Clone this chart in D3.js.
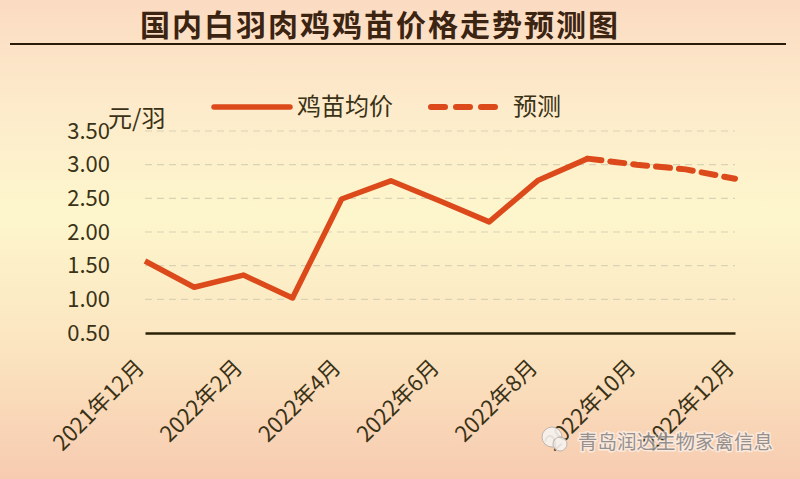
<!DOCTYPE html>
<html><head><meta charset="utf-8">
<script src="https://cdn.jsdelivr.net/npm/d3@7/dist/d3.min.js"></script>
<style>html,body{margin:0;padding:0;overflow:hidden}svg{display:block}</style>
</head><body>
<svg id="c" width="800" height="479"></svg>
<script>
const months = ["2021年12月","2022年1月","2022年2月","2022年3月","2022年4月","2022年5月","2022年6月","2022年7月","2022年8月","2022年9月","2022年10月","2022年11月","2022年12月"];
const actual = [1.57, 1.18, 1.36, 1.02, 2.49, 2.76, 2.46, 2.15, 2.77, 3.09, null, null, null];
const forecast = [null, null, null, null, null, null, null, null, null, 3.09, 3.00, 2.93, 2.79];
const tickLabels = ["2021年12月","2022年2月","2022年4月","2022年6月","2022年8月","2022年10月","2022年12月"];
const yTicks = [0.5, 1.0, 1.5, 2.0, 2.5, 3.0, 3.5];
const title = "国内白羽肉鸡鸡苗价格走势预测图";
const unit = "元/羽";
const seriesNames = ["鸡苗均价", "预测"];
const watermark = "青岛润达生物家禽信息";

const svg = d3.select("#c");
const W = 800, H = 479;
const defs = svg.append("defs");
const g = defs.append("linearGradient").attr("id","bg").attr("x1",0).attr("y1",0).attr("x2",0).attr("y2",1);
g.append("stop").attr("offset","0%").attr("stop-color","#fbdbc2");
g.append("stop").attr("offset","22%").attr("stop-color","#fdebcb");
g.append("stop").attr("offset","45%").attr("stop-color","#fdf6cc");
g.append("stop").attr("offset","72%").attr("stop-color","#fbe5c0");
g.append("stop").attr("offset","100%").attr("stop-color","#f7cbb0");
svg.append("rect").attr("width",W).attr("height",H).attr("fill","url(#bg)");

const font = "'Noto Sans CJK SC', 'Noto Sans', sans-serif";
const textCol = "#3a3216";

// Title
svg.append("text").attr("x",380).attr("y",36).attr("text-anchor","middle")
  .attr("font-family",font).attr("font-weight","bold").attr("font-size",30)
  .attr("fill","#3b2412").attr("letter-spacing",2).text(title);
svg.append("line").attr("x1",10).attr("x2",786).attr("y1",44).attr("y2",44)
  .attr("stroke","#2a1a08").attr("stroke-width",2.2);

const x = d3.scalePoint().domain(months).range([145, 735]);
const y = d3.scaleLinear().domain([0.5, 3.5]).range([333, 131]);

// gridlines
svg.append("g").selectAll("line").data(yTicks.filter(v => v > 0.5)).join("line")
  .attr("x1",145).attr("x2",735).attr("y1",d=>y(d)).attr("y2",d=>y(d))
  .attr("stroke","#d9d2b4").attr("stroke-width",1.2).attr("stroke-dasharray","7,5");

// y axis
const yAxis = svg.append("g").attr("transform","translate(110,0)")
  .call(d3.axisLeft(y).tickValues(yTicks).tickFormat(d3.format(".2f")).tickSize(0).tickPadding(0));
yAxis.select(".domain").remove();
yAxis.selectAll("text").attr("font-family",font).attr("font-size",22).attr("fill",textCol).attr("dy","0.33em");

// baseline x axis
const xAxis = svg.append("g").attr("transform",`translate(0,${y(0.5)})`)
  .call(d3.axisBottom(x).tickValues(tickLabels).tickSize(0).tickPadding(0));
xAxis.select(".domain").attr("stroke","#2a2208").attr("stroke-width",2.4);
xAxis.selectAll("text").attr("font-family",font).attr("font-size",22).attr("fill",textCol)
  .attr("text-anchor","end").attr("dy",0)
  .attr("transform","translate(0,36) rotate(-45)");

// unit
svg.append("text").attr("x",108).attr("y",127).attr("font-family",font).attr("font-size",24)
  .attr("fill",textCol).text(unit);

const lineCol = "#dc4a1b";
const line = d3.line().defined(d=>d.v!==null).x(d=>x(d.m)).y(d=>y(d.v));
const aData = months.map((m,i)=>({m, v: actual[i]}));
const fData = months.map((m,i)=>({m, v: forecast[i]}));
svg.append("path").datum(aData).attr("d",line).attr("fill","none").attr("stroke",lineCol)
  .attr("stroke-width",5.5).attr("stroke-linejoin","round");
svg.append("path").datum(fData).attr("d",line).attr("fill","none").attr("stroke",lineCol)
  .attr("stroke-width",6).attr("stroke-dasharray","14,9").attr("stroke-linecap","round");

// legend
const lg = svg.append("g");
lg.append("line").attr("x1",214).attr("x2",290).attr("y1",107).attr("y2",107)
  .attr("stroke",lineCol).attr("stroke-width",5.5).attr("stroke-linecap","round");
lg.append("text").attr("x",297).attr("y",115).attr("font-family",font).attr("font-size",24)
  .attr("fill",textCol).text(seriesNames[0]);
lg.append("line").attr("x1",431).attr("x2",497).attr("y1",107).attr("y2",107)
  .attr("stroke",lineCol).attr("stroke-width",6).attr("stroke-dasharray","14,11").attr("stroke-linecap","round");
lg.append("text").attr("x",513).attr("y",115).attr("font-family",font).attr("font-size",24)
  .attr("fill",textCol).text(seriesNames[1]);

// watermark
const wm = svg.append("g").attr("opacity",0.9);
wm.append("circle").attr("cx",552).attr("cy",437).attr("r",10).attr("fill","#f6f3f0").attr("stroke","#bbb3ad").attr("stroke-width",1);
wm.append("circle").attr("cx",560).attr("cy",444).attr("r",7).attr("fill","#f6f3f0").attr("stroke","#bbb3ad").attr("stroke-width",1);
wm.append("text").attr("x",578).attr("y",449).attr("font-family",font).attr("font-size",19.5)
  .attr("fill","#ffffff").attr("stroke","#ffffff").attr("stroke-width",3).attr("opacity",0.6).text(watermark);
wm.append("text").attr("x",578).attr("y",449).attr("font-family",font).attr("font-size",19.5)
  .attr("fill","#8c8a8c").text(watermark);
</script>
</body></html>
